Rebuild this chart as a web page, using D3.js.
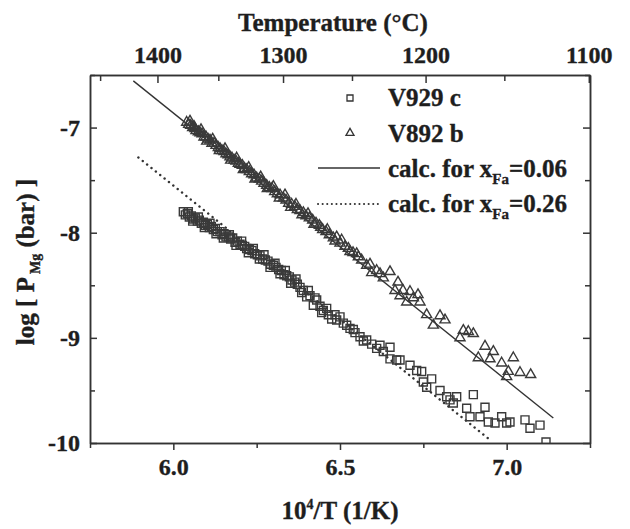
<!DOCTYPE html>
<html>
<head>
<meta charset="utf-8">
<script src="https://cdn.jsdelivr.net/npm/d3@7"></script>
<style>
body{margin:0;background:#fff;}
text{font-family:"Liberation Serif","Times New Roman",serif;font-weight:bold;fill:#1e1e1e;stroke:#1e1e1e;stroke-width:0.35px;}
.axis path,.axis line{stroke:#333;stroke-width:1.5;}
</style>
</head>
<body>
<div id="chart"></div>
<script>
//measured points, [10^4/T, log P]
var v929c = [[6.030,-7.80],[6.036,-7.83],[6.042,-7.82],[6.048,-7.85],[6.054,-7.84],[6.060,-7.87],[6.066,-7.86],[6.072,-7.89],
	[6.078,-7.88],[6.084,-7.91],[6.090,-7.90],[6.096,-7.93],[6.102,-7.92],[6.108,-7.95],[6.114,-7.94],[6.120,-7.97],
	[6.126,-7.96],[6.132,-7.99],[6.140,-7.99],[6.146,-8.02],[6.152,-8.01],[6.158,-8.04],[6.165,-8.04],[6.172,-8.06],
	[6.178,-8.05],[6.185,-8.09],[6.192,-8.08],[6.200,-8.11],[6.207,-8.12],[6.214,-8.13],[6.220,-8.15],[6.228,-8.16],
	[6.236,-8.17],[6.244,-8.20],[6.252,-8.21],[6.260,-8.22],[6.268,-8.25],[6.276,-8.26],[6.284,-8.27],[6.292,-8.30],
	[6.300,-8.31],[6.308,-8.33],[6.316,-8.35],[6.324,-8.36],[6.332,-8.40],[6.340,-8.41],[6.348,-8.42],[6.356,-8.45],
	[6.364,-8.47],[6.372,-8.49],[6.380,-8.52],[6.390,-8.55],[6.400,-8.61],[6.410,-8.60],[6.420,-8.69],[6.430,-8.64],
	[6.440,-8.70],[6.450,-8.74],[6.460,-8.72],[6.475,-8.82],[6.490,-8.83],[6.500,-8.80],[6.510,-8.86],[6.530,-8.91],
	[6.545,-8.95],[6.560,-8.99],[6.580,-9.02],[6.595,-9.06],[6.610,-9.10],[6.630,-9.13],[6.650,-9.09],[6.650,-9.20],
	[6.670,-9.21],[6.680,-9.21],[6.710,-9.26],[6.730,-9.31],[6.745,-9.32],[6.750,-9.42],[6.760,-9.47],[6.775,-9.39],
	[6.800,-9.50],[6.820,-9.56],[6.830,-9.59],[6.840,-9.62],[6.850,-9.56],[6.880,-9.67],[6.890,-9.75],[6.900,-9.54],
	[6.920,-9.75],[6.935,-9.66],[6.945,-9.80],[6.965,-9.81],[6.985,-9.75],[7.000,-9.81],[7.010,-9.80],[7.055,-9.78],
	[7.070,-9.86],[7.100,-9.83],[7.118,-9.99],
	[6.045,-7.80],[6.058,-7.89],[6.075,-7.85],[6.093,-7.95],[6.110,-7.91],[6.128,-8.01],[6.150,-8.05],[6.168,-8.02],
	[6.188,-8.12],[6.205,-8.08],[6.225,-8.19],[6.240,-8.15],[6.258,-8.25],[6.272,-8.21],[6.290,-8.33],[6.305,-8.29],
	[6.320,-8.39],[6.336,-8.36],[6.352,-8.48],[6.368,-8.44],[6.385,-8.57],[6.405,-8.55],[6.425,-8.62],[6.445,-8.76],
	[6.465,-8.78],[6.485,-8.78],[6.520,-8.88],[6.540,-8.92],[6.570,-9.03],[6.620,-9.07]];

var v892b = [[6.040,-6.95],[6.046,-6.97],[6.052,-6.98],[6.058,-7.00],[6.062,-6.99],[6.068,-7.03],[6.075,-7.04],[6.080,-7.05],
	[6.086,-7.06],[6.092,-7.09],[6.098,-7.09],[6.104,-7.11],[6.110,-7.12],[6.116,-7.15],[6.122,-7.15],[6.128,-7.17],
	[6.135,-7.19],[6.140,-7.20],[6.146,-7.22],[6.152,-7.23],[6.158,-7.25],[6.164,-7.26],[6.170,-7.28],[6.176,-7.29],
	[6.182,-7.31],[6.188,-7.32],[6.195,-7.34],[6.200,-7.35],[6.207,-7.36],[6.214,-7.39],[6.220,-7.40],[6.228,-7.42],
	[6.235,-7.44],[6.242,-7.45],[6.250,-7.48],[6.258,-7.49],[6.265,-7.51],[6.272,-7.53],[6.280,-7.55],[6.288,-7.57],
	[6.296,-7.58],[6.304,-7.61],[6.312,-7.63],[6.320,-7.64],[6.330,-7.67],[6.338,-7.69],[6.346,-7.72],[6.355,-7.73],
	[6.364,-7.75],[6.372,-7.78],[6.380,-7.79],[6.390,-7.81],[6.398,-7.84],[6.408,-7.86],[6.418,-7.88],[6.428,-7.91],
	[6.438,-7.93],[6.448,-7.97],[6.458,-7.99],[6.468,-8.02],[6.480,-8.05],[6.490,-8.04],[6.500,-8.10],[6.515,-8.13],
	[6.525,-8.15],[6.539,-8.19],[6.550,-8.20],[6.565,-8.26],[6.580,-8.31],[6.595,-8.38],[6.620,-8.39],[6.630,-8.43],
	[6.650,-8.37],[6.665,-8.55],[6.674,-8.47],[6.680,-8.60],[6.689,-8.55],[6.700,-8.66],[6.710,-8.56],[6.720,-8.62],
	[6.734,-8.59],[6.740,-8.66],[6.760,-8.78],[6.780,-8.88],[6.800,-8.79],[6.815,-8.83],[6.860,-9.00],[6.870,-8.93],
	[6.885,-8.94],[6.900,-8.96],[6.915,-9.19],[6.935,-9.08],[6.950,-9.20],[6.960,-9.13],[6.985,-9.24],[7.000,-9.37],
	[7.005,-9.32],[7.020,-9.19],[7.040,-9.33],[7.072,-9.35],
	[6.050,-6.94],[6.065,-7.01],[6.083,-7.02],[6.100,-7.13],[6.118,-7.11],[6.138,-7.22],[6.155,-7.20],[6.172,-7.31],
	[6.190,-7.29],[6.210,-7.40],[6.226,-7.38],[6.245,-7.49],[6.262,-7.47],[6.282,-7.58],[6.300,-7.56],[6.318,-7.67],
	[6.335,-7.64],[6.352,-7.76],[6.368,-7.73],[6.386,-7.83],[6.404,-7.82],[6.422,-7.92],[6.442,-7.95],[6.462,-7.97],
	[6.485,-8.08],[6.505,-8.07],[6.530,-8.18],[6.555,-8.23],[6.590,-8.30],[6.610,-8.36]];

//calculated lines, end points
var calcFa006 = [[5.880,-6.556],[7.140,-9.762]];
var calcFa026 = [[5.895,-7.284],[6.950,-9.970]];

var xTicks = [6.0,6.5,7.0];
var xMinor = [5.75,6.25,6.75,7.25];
var yTicks = [-7,-8,-9,-10];
var yMinor = [-6.5,-7.5,-8.5,-9.5];
var tempTicks = [1400,1300,1200,1100];
var tempMinor = [1450,1350,1250,1150];
var tempOffset = 280; //°C -> K offset as the top axis is drawn

function invT(c){
	return 10000/(c+tempOffset);
}

var plotLeft = 90, plotRight = 590, plotTop = 75, plotBottom = 443;

var x = d3.scaleLinear().domain([5.75,7.25]).range([plotLeft,plotRight]);
var y = d3.scaleLinear().domain([-10,-6.5]).range([plotBottom,plotTop]);

var svg = d3.select('#chart').append("svg")
	.attr("width",630)
	.attr("height",529);

svg.append("clipPath").attr("id","plotclip")
	.append("rect")
	.attr("x",plotLeft).attr("y",plotTop)
	.attr("width",plotRight-plotLeft).attr("height",plotBottom-plotTop);

//axes
svg.append("g").attr("class","axis")
	.attr("transform","translate(0,"+plotBottom+")")
	.call(d3.axisBottom(x).tickValues(xMinor).tickSize(5).tickSizeOuter(0).tickFormat(""));
svg.append("g").attr("class","axis")
	.attr("transform","translate(0,"+plotBottom+")")
	.call(d3.axisBottom(x).tickValues(xTicks).tickSize(7).tickSizeOuter(0).tickPadding(8)
		.tickFormat(function(d){ return d.toFixed(1); }));

svg.append("g").attr("class","axis")
	.attr("transform","translate(0,"+plotTop+")")
	.call(d3.axisTop(x).tickValues(tempMinor.map(invT)).tickSize(-6).tickSizeOuter(0).tickFormat(""));
svg.append("g").attr("class","axis")
	.attr("transform","translate(0,"+plotTop+")")
	.call(d3.axisTop(x).tickValues(tempTicks.map(invT)).tickSize(-8).tickSizeOuter(0).tickPadding(12)
		.tickFormat(function(d,i){ return tempTicks[i]; }));

svg.append("g").attr("class","axis")
	.attr("transform","translate("+plotLeft+",0)")
	.call(d3.axisLeft(y).tickValues(yMinor).tickSize(-5).tickSizeOuter(0).tickFormat(""));
svg.append("g").attr("class","axis")
	.attr("transform","translate("+plotLeft+",0)")
	.call(d3.axisLeft(y).tickValues(yTicks).tickSize(-7).tickSizeOuter(0).tickPadding(10)
		.tickFormat(function(d){ return String(d); }));

svg.append("g").attr("class","axis")
	.attr("transform","translate("+plotRight+",0)")
	.call(d3.axisRight(y).tickValues(yMinor).tickSize(-5).tickSizeOuter(0).tickFormat(""));
svg.append("g").attr("class","axis")
	.attr("transform","translate("+plotRight+",0)")
	.call(d3.axisRight(y).tickValues(yTicks).tickSize(-7).tickSizeOuter(0).tickFormat(""));

svg.selectAll(".axis text")
	.style("font-size","24px")
	.style("font-family","'Liberation Serif',serif")
	.style("font-weight","bold")
	.attr("fill","#1e1e1e");

//axis titles
svg.append("text")
	.attr("x",333).attr("y",31)
	.attr("text-anchor","middle")
	.style("font-size","25px")
	.text("Temperature (°C)");

var xt = svg.append("text")
	.attr("x",340).attr("y",519)
	.attr("text-anchor","middle")
	.style("font-size","25px");
xt.append("tspan").text("10");
xt.append("tspan").attr("dy",-10).style("font-size","14px").text("4");
xt.append("tspan").attr("dy",10).text("/T (1/K)");

var yt = svg.append("text")
	.attr("transform","translate(34,262) rotate(-90)")
	.attr("text-anchor","middle")
	.style("font-size","25px");
yt.append("tspan").text("log [ P");
yt.append("tspan").attr("dx",3).attr("dy",6).style("font-size","14px").text("Mg");
yt.append("tspan").attr("dy",-6).text(" (bar) ]");

//lines
var lineGen = d3.line()
	.x(function(d){ return x(d[0]); })
	.y(function(d){ return y(d[1]); });

svg.append("path")
	.attr("d",lineGen(calcFa006))
	.attr("fill","none")
	.attr("stroke","#333")
	.attr("stroke-width",1.4);

svg.append("path")
	.attr("d",lineGen(calcFa026))
	.attr("fill","none")
	.attr("stroke","#333")
	.attr("stroke-width",2.4)
	.attr("stroke-linecap","round")
	.attr("stroke-dasharray","0.1,5.5");

//points
var squareSym = d3.symbol().type(d3.symbolSquare).size(64);
var triSym = d3.symbol().type(d3.symbolTriangle).size(44);

var pts = svg.append("g").attr("clip-path","url(#plotclip)");

pts.selectAll(".sq")
	.data(v929c)
	.enter()
	.append("path")
	.attr("class","sq")
	.attr("d",squareSym)
	.attr("transform",function(d){ return "translate("+x(d[0])+","+y(d[1])+")"; })
	.attr("fill","none")
	.attr("stroke","#3a3a3a")
	.attr("stroke-width",1.4);

pts.selectAll(".tri")
	.data(v892b)
	.enter()
	.append("path")
	.attr("class","tri")
	.attr("d",triSym)
	.attr("transform",function(d){ return "translate("+x(d[0])+","+y(d[1])+")"; })
	.attr("fill","none")
	.attr("stroke","#3a3a3a")
	.attr("stroke-width",1.4);

//legend
var legend = svg.append("g");

legend.append("path")
	.attr("d",d3.symbol().type(d3.symbolSquare).size(36)())
	.attr("transform","translate(350,98)")
	.attr("fill","none").attr("stroke","#333").attr("stroke-width",1.3);
legend.append("text").attr("x",388).attr("y",106).style("font-size","25px").text("V929 c");

legend.append("path")
	.attr("d",d3.symbol().type(d3.symbolTriangle).size(28)())
	.attr("transform","translate(350,133)")
	.attr("fill","none").attr("stroke","#333").attr("stroke-width",1.3);
legend.append("text").attr("x",388).attr("y",142).style("font-size","25px").text("V892 b");

legend.append("line")
	.attr("x1",318).attr("x2",380).attr("y1",168).attr("y2",168)
	.attr("stroke","#333").attr("stroke-width",1.4);
var l1 = legend.append("text").attr("x",388).attr("y",177).style("font-size","25px");
l1.append("tspan").text("calc. for x");
l1.append("tspan").attr("dy",7).style("font-size","15px").text("Fa");
l1.append("tspan").attr("dy",-7).text("=0.06");

legend.append("line")
	.attr("x1",318).attr("x2",380).attr("y1",204).attr("y2",204)
	.attr("stroke","#333").attr("stroke-width",2)
	.attr("stroke-linecap","round")
	.attr("stroke-dasharray","0.1,4.5");
var l2 = legend.append("text").attr("x",388).attr("y",212).style("font-size","25px");
l2.append("tspan").text("calc. for x");
l2.append("tspan").attr("dy",7).style("font-size","15px").text("Fa");
l2.append("tspan").attr("dy",-7).text("=0.26");
</script>
</body>
</html>
